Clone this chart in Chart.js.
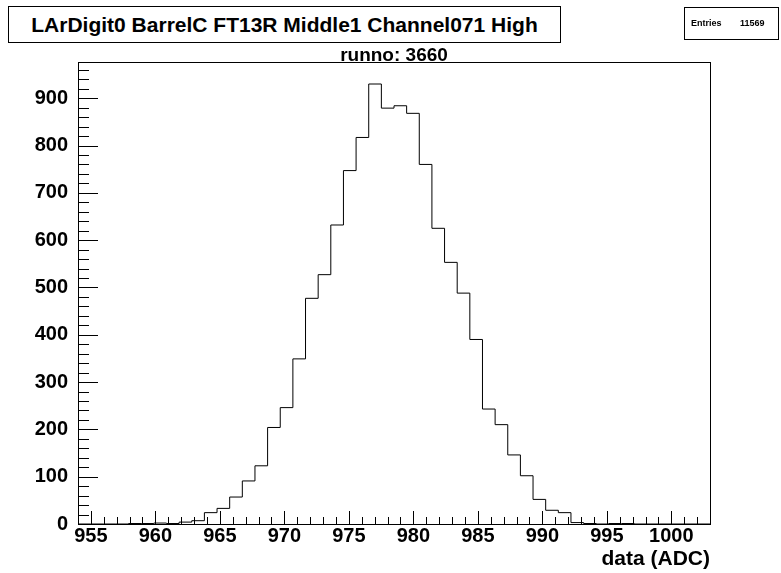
<!DOCTYPE html>
<html>
<head>
<meta charset="utf-8">
<script src="https://cdn.jsdelivr.net/npm/chart.js@4.4.0/dist/chart.umd.min.js"></script>
<style>
  html, body { margin: 0; padding: 0; background: #fff; }
  #wrap { position: relative; width: 781px; height: 573px; font-family: "Liberation Sans", Arial, sans-serif; font-weight: bold; color: #000; }
  #hist { position: absolute; left: 0; top: 0; }
  .pave { position: absolute; border: 1px solid #000; background: #fff; box-sizing: border-box; }
  #title { left: 8px; top: 6px; width: 553px; height: 37px; font-size: 21px; line-height: 35px; text-align: center; }
  #stats { left: 684px; top: 7px; width: 95px; height: 33px; font-size: 9px; }
  #stats span { position: absolute; top: 10px; }
  #runno { position: absolute; left: 78px; width: 632px; top: 44px; text-align: center; font-size: 19px; line-height: 22px; }
</style>
</head>
<body>
<div id="wrap">
  <canvas id="hist" width="781" height="573"></canvas>
  <div class="pave" id="title">LArDigit0 BarrelC FT13R Middle1 Channel071 High</div>
  <div id="runno">runno: 3660</div>
  <div class="pave" id="stats"><span style="left:6px">Entries</span><span style="left:55px">11569</span></div>
</div>
<script>
// histogram definition (50 bins between 954 and 1003)
const xMin = 954;
const xMax = 1003;
const nBins = 50;
const binCounts = [0, 0, 0, 0, 1, 1, 2, 1, 4, 7,
  24, 33, 57, 91, 123, 204, 246, 349, 477, 527,
  632, 747, 817, 930, 879, 884, 868, 760, 625, 553,
  488, 390, 243, 210, 146, 102, 52, 29, 24, 3,
  1, 0, 1, 1, 0, 0, 0, 0, 0, 0];
const yMax = 976.5;

const xTickLabels = [955, 960, 965, 970, 975, 980, 985, 990, 995, 1000];
const yTickLabels = [0, 100, 200, 300, 400, 500, 600, 700, 800, 900];

const fontFamily = '"Liberation Sans", Arial, sans-serif';
const binW = (xMax - xMin) / nBins;

// step points at low edges + closing point at the upper edge
const points = binCounts.map((c, k) => ({ x: xMin + k * binW, y: c }));
points.push({ x: xMax, y: binCounts[binCounts.length - 1] });

// ROOT style frame with ticks drawn inwards
const rootFrame = {
  id: 'rootFrame',
  afterDatasetsDraw(chart) {
    const { ctx, chartArea: a, scales: { x, y } } = chart;
    ctx.save();
    ctx.strokeStyle = '#000';
    ctx.lineWidth = 1;
    ctx.strokeRect(a.left + 0.5, a.top + 0.5, a.right - a.left, a.bottom - a.top);
    ctx.beginPath();
    for (let v = Math.ceil(xMin) + 1; v < xMax; v++) {
      const px = Math.round(x.getPixelForValue(v)) + 0.5;
      const len = v % 5 === 0 ? 13 : 7;
      ctx.moveTo(px, a.bottom);
      ctx.lineTo(px, a.bottom - len);
    }
    for (let v = 20; v < yMax; v += 20) {
      const py = Math.round(y.getPixelForValue(v)) + 0.5;
      const len = v % 100 === 0 ? 20 : 11;
      ctx.moveTo(a.left, py);
      ctx.lineTo(a.left + len, py);
    }
    ctx.stroke();
    ctx.restore();
  },
};

new Chart(document.getElementById('hist'), {
  type: 'line',
  data: {
    datasets: [{
      data: points,
      borderColor: '#000',
      borderWidth: 1,
      pointRadius: 0,
      stepped: 'before',   // horizontal across the bin, then vertical at the next edge
      fill: false,
    }],
  },
  options: {
    responsive: false,
    animation: false,
    layout: { padding: { top: 62, right: 71, left: 0, bottom: 0 } },
    plugins: {
      legend: { display: false },
      tooltip: { enabled: false },
    },
    scales: {
      x: {
        type: 'linear',
        min: xMin,
        max: xMax,
        afterBuildTicks(s) { s.ticks = xTickLabels.map((v) => ({ value: v })); },
        afterFit(s) { s.height = 49; },
        grid: { display: false, drawTicks: false },
        border: { display: false },
        ticks: {
          color: '#000',
          padding: 0,
          maxRotation: 0,
          autoSkip: false,
          callback: (v) => String(v),
          font: { family: fontFamily, size: 20, weight: 'bold' },
        },
        title: {
          display: true,
          text: 'data (ADC)',
          align: 'end',
          color: '#000',
          padding: { top: 0, bottom: 1 },
          font: { family: fontFamily, size: 21, weight: 'bold' },
        },
      },
      y: {
        min: 0,
        max: yMax,
        afterBuildTicks(s) { s.ticks = yTickLabels.map((v) => ({ value: v })); },
        afterFit(s) { s.width = 78; },
        grid: { display: false, drawTicks: false },
        border: { display: false },
        ticks: {
          color: '#000',
          padding: 10,
          autoSkip: false,
          callback: (v) => String(v),
          font: { family: fontFamily, size: 20, weight: 'bold' },
        },
      },
    },
  },
  plugins: [rootFrame],
});
</script>
</body>
</html>
